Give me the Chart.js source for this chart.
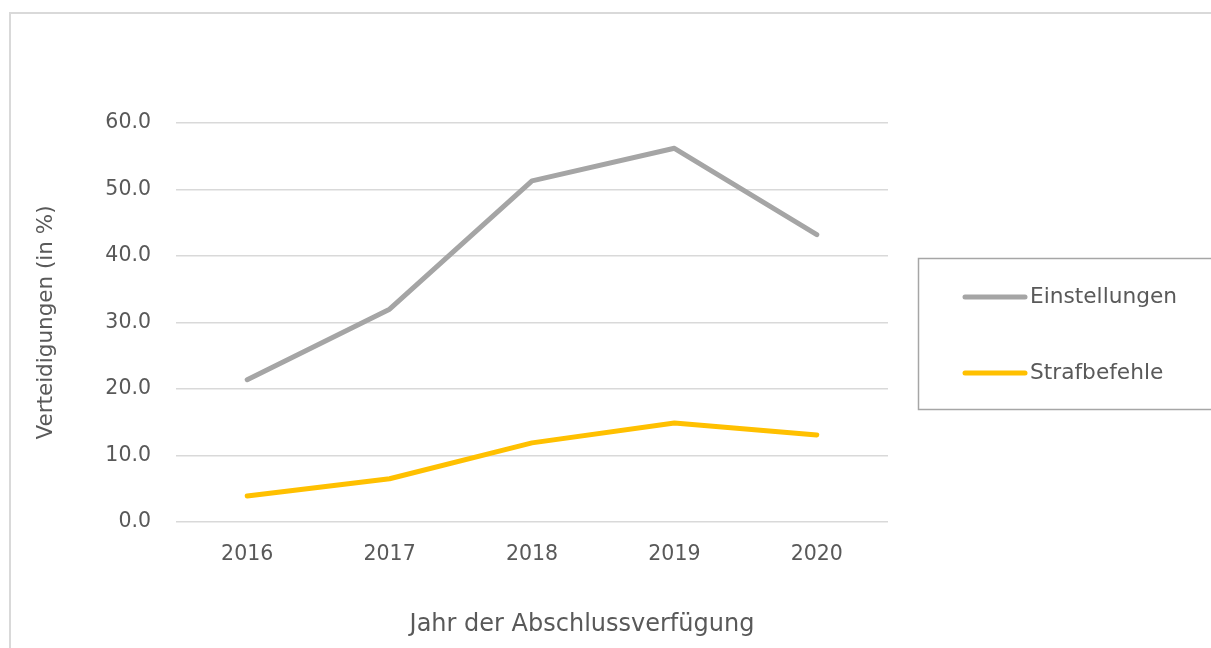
<!DOCTYPE html>
<html>
<head>
<meta charset="utf-8">
<script src="https://cdn.jsdelivr.net/npm/chart.js@4/dist/chart.umd.min.js"></script>
<style>
html,body{margin:0;padding:0;background:#fff;}
#c{display:block;}
</style>
</head>
<body>
<canvas id="c" width="1211" height="648"></canvas>
<script>
const categories = ["2016", "2017", "2018", "2019", "2020"];
const einstellungen = [21.4, 32.0, 51.3, 56.2, 43.2];
const strafbefehle = [3.9, 6.5, 11.9, 14.9, 13.1];
const seriesNames = ["Einstellungen", "Strafbefehle"];
const yTickValues = [0, 10, 20, 30, 40, 50, 60];
const xTitle = "Jahr der Abschlussverfügung";
const yTitle = "Verteidigungen (in %)";

const FONT = "'DejaVu Sans', sans-serif";
const TXT = "#595959";
const FS = 20.5;

const decor = {
  id: 'decor',
  beforeDraw(chart) {
    const ctx = chart.ctx;
    ctx.save();
    ctx.strokeStyle = '#d9d9d9';
    ctx.lineWidth = 2;
    ctx.strokeRect(10, 13, 1220, 660);
    ctx.restore();
  },
  afterDraw(chart) {
    const ctx = chart.ctx;
    ctx.save();
    // x axis title
    ctx.fillStyle = TXT;
    ctx.font = '24px ' + FONT;
    ctx.textAlign = 'center';
    ctx.textBaseline = 'middle';
    ctx.fillText(xTitle, 582, 625);
    // legend box
    ctx.strokeStyle = '#a6a6a6';
    ctx.lineWidth = 1.5;
    ctx.strokeRect(918.5, 258.5, 320, 151);
    const ys = [297, 373];
    ctx.font = '21.7px ' + FONT;
    chart.data.datasets.forEach((ds, i) => {
      ctx.strokeStyle = ds.borderColor;
      ctx.lineWidth = 5;
      ctx.lineCap = 'round';
      ctx.beginPath();
      ctx.moveTo(965, ys[i]);
      ctx.lineTo(1025, ys[i]);
      ctx.stroke();
      ctx.fillStyle = TXT;
      ctx.textAlign = 'left';
      ctx.textBaseline = 'middle';
      ctx.fillText(ds.label, 1030, ys[i]);
    });
    ctx.restore();
  }
};

new Chart(document.getElementById('c'), {
  type: 'line',
  data: {
    labels: categories,
    datasets: [
      { label: seriesNames[0], data: einstellungen, borderColor: '#a5a5a5', backgroundColor: '#a5a5a5',
        borderWidth: 5, pointRadius: 0, pointHoverRadius: 0, borderCapStyle: 'round', borderJoinStyle: 'round', tension: 0 },
      { label: seriesNames[1], data: strafbefehle, borderColor: '#ffc000', backgroundColor: '#ffc000',
        borderWidth: 5, pointRadius: 0, pointHoverRadius: 0, borderCapStyle: 'round', borderJoinStyle: 'round', tension: 0 }
    ]
  },
  options: {
    responsive: false,
    animation: false,
    events: [],
    layout: { padding: { left: 0, right: 323, top: 123, bottom: 66 } },
    plugins: { legend: { display: false }, tooltip: { enabled: false } },
    scales: {
      x: {
        offset: true,
        grid: { display: false, drawTicks: false },
        border: { display: false },
        ticks: { color: TXT, font: { family: FONT, size: FS }, padding: 20, maxRotation: 0 },
        afterFit(s) { s.height = 60; }
      },
      y: {
        min: 0, max: 60,
        afterBuildTicks(s) { s.ticks = yTickValues.map(v => ({ value: v })); },
        grid: { color: '#d9d9d9', lineWidth: 1.5, drawTicks: false },
        border: { display: false },
        ticks: { color: TXT, font: { family: FONT, size: FS }, padding: 25, callback: v => Number(v).toFixed(1) },
        title: { display: true, text: yTitle, color: TXT, font: { family: FONT, size: 21.5 }, padding: { top: 34, bottom: 0 } },
        afterFit(s) { s.width = 176; }
      }
    }
  },
  plugins: [decor]
});
</script>
</body>
</html>
